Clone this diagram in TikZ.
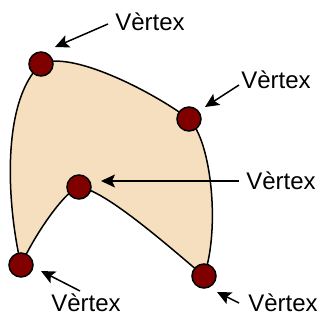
\documentclass[tikz,border=0pt]{standalone}
\usepackage{fontspec}
\setmainfont{Liberation Sans}
\usetikzlibrary{arrows.meta}
\definecolor{shapefill}{RGB}{245,223,190}
\definecolor{vfill}{RGB}{128,0,0}
\tikzset{
  vert/.style={circle, draw=black, line width=1.5pt, fill=vfill, minimum size=24pt, inner sep=0pt},
  lbl/.style={font=\fontsize{24}{28}\selectfont, inner sep=0pt},
  ptr/.style={line width=1.5pt, -{Stealth[length=14pt,width=13pt,inset=3pt]}}
}
\begin{document}
\begin{tikzpicture}[x=1pt,y=-1pt]
\useasboundingbox (0,0) rectangle (323,320);
\coordinate (p1) at (41,64);
\coordinate (p2) at (189,119);
\coordinate (p3) at (79,187);
\coordinate (p4) at (21,265);
\coordinate (p5) at (204,276);
\draw[line width=1.5pt, fill=shapefill]
  (p1) .. controls (70,50) and (150,90) .. (p2)
  .. controls (212,142) and (220,230) .. (p5)
  .. controls (175,252) and (106,190) .. (p3)
  .. controls (66,190) and (36,232) .. (p4)
  .. controls (6,200) and (2,100) .. (p1) -- cycle;
\node[vert] (v1) at (p1) {};
\node[vert] (v2) at (p2) {};
\node[vert] (v3) at (p3) {};
\node[vert] (v4) at (p4) {};
\node[vert] (v5) at (p5) {};
\node[lbl] (t1) at (150,22) {Vèrtex};
\node[lbl] (t2) at (276,80) {Vèrtex};
\node[lbl] (t3) at (281,181) {Vèrtex};
\node[lbl] (t4) at (86,303) {Vèrtex};
\node[lbl] (t5) at (283,303) {Vèrtex};
\coordinate (a1) at (108,24);
\coordinate (b1) at (55,47);
\coordinate (a2) at (239,85);
\coordinate (b2) at (205,107);
\coordinate (a3) at (239,181);
\coordinate (b3) at (101,181);
\coordinate (a4) at (80,291);
\coordinate (b4) at (41,271);
\coordinate (a5) at (239,303);
\coordinate (b5) at (217,292);
\draw[ptr] (a1) -- (b1);
\draw[ptr] (a2) -- (b2);
\draw[ptr] (a3) -- (b3);
\draw[ptr] (a4) -- (b4);
\draw[ptr] (a5) -- (b5);
\end{tikzpicture}
\end{document}
